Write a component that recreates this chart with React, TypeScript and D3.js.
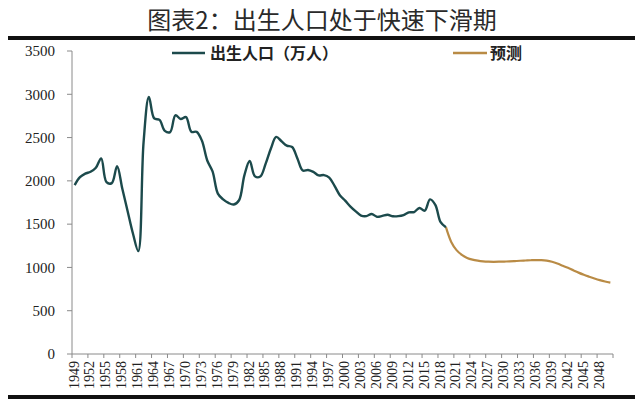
import React from 'react';
import * as d3 from 'd3';

const titleText = '图表2：出生人口处于快速下滑期';
const legendHist = '出生人口（万人）';
const legendFcst = '预测';

const histStart = 1949;
const histBirths = [
  1950, 2042, 2083, 2105, 2151, 2260, 1984, 1974, 2169, 1905,
  1647, 1389, 1188, 2451, 2970, 2721, 2704, 2577, 2563, 2757,
  2715, 2736, 2567, 2566, 2463, 2235, 2109, 1853, 1786, 1745,
  1727, 1776, 2064, 2230, 2052, 2050, 2196, 2374, 2508, 2457,
  2407, 2391, 2258, 2119, 2126, 2104, 2063, 2067, 2038, 1942,
  1834, 1771, 1702, 1647, 1599, 1593, 1617, 1585, 1595, 1608,
  1591, 1592, 1604, 1635, 1640, 1687, 1655, 1786, 1723, 1523,
  1465,
];

const fcstStart = 2019;
const fcstBirths = [
  1465, 1295, 1200, 1145, 1110, 1090, 1078, 1070, 1066, 1065,
  1066, 1068, 1070, 1073, 1077, 1080, 1083, 1085, 1084, 1078,
  1065, 1045, 1020, 995, 968, 940, 915, 893, 872, 853,
  837, 825,
];

const xTickLabels = [
  '1949', '1952', '1955', '1958', '1961', '1964', '1967', '1970', '1973', '1976',
  '1979', '1982', '1985', '1988', '1991', '1994', '1997', '2000', '2003', '2006',
  '2009', '2012', '2015', '2018', '2021', '2024', '2027', '2030', '2033', '2036',
  '2039', '2042', '2045', '2048',
];
const yTicks = [0, 500, 1000, 1500, 2000, 2500, 3000, 3500];

const firstYear = 1949;
const lastYear = 2050;

const HIST_COLOR = '#1c4a4c';
const FCST_COLOR = '#b98b45';

export default function App() {
  const W = 640;
  const H = 406;
  const left = 72;
  const right = 613;
  const top = 51;
  const bottom = 354;

  const x = d3.scaleLinear().domain([firstYear - 0.5, lastYear + 0.5]).range([left, right]);
  const y = d3.scaleLinear().domain([0, 3500]).range([bottom, top]);

  const hist = histBirths.map((v, i) => [histStart + i, v] as [number, number]);
  const fcst = fcstBirths.map((v, i) => [fcstStart + i, v] as [number, number]);

  const line = d3
    .line<[number, number]>()
    .x((d) => x(d[0]))
    .y((d) => y(d[1]))
    .curve(d3.curveCatmullRom.alpha(0.5));

  const tickBounds: number[] = [];
  for (let t = firstYear - 0.5; t <= lastYear + 0.5 + 1e-6; t += 3) tickBounds.push(t);

  const serif = '"Liberation Serif", "Times New Roman", serif';
  const cjk = '"Noto Sans CJK SC", sans-serif';

  return (
    <svg
      width={W}
      height={H}
      style={{ position: 'absolute', left: 0, top: 0, background: '#ffffff' }}
    >
      <rect x={0} y={0} width={W} height={H} fill="#ffffff" />
      <text
        x={322}
        y={29}
        textAnchor="middle"
        fontFamily={cjk}
        fontSize={24}
        fill="#2a2a2a"
      >
        {titleText}
      </text>
      <line x1={8} x2={635} y1={38} y2={38} stroke="#111" strokeWidth={4} />
      <line x1={8} x2={635} y1={397} y2={397} stroke="#111" strokeWidth={4} />

      {/* legend */}
      <line x1={172} x2={205} y1={53} y2={53} stroke={HIST_COLOR} strokeWidth={2.5} />
      <text x={210} y={59} fontFamily={cjk} fontWeight="bold" fontSize={16} fill="#222">
        {legendHist}
      </text>
      <line x1={453} x2={487} y1={53} y2={53} stroke={FCST_COLOR} strokeWidth={2.5} />
      <text x={490} y={59} fontFamily={cjk} fontWeight="bold" fontSize={16} fill="#222">
        {legendFcst}
      </text>

      {/* y axis */}
      <line x1={left} x2={left} y1={top} y2={bottom} stroke="#8a8a8a" strokeWidth={1} />
      {yTicks.map((t) => (
        <g key={t}>
          <line x1={left - 5} x2={left} y1={y(t)} y2={y(t)} stroke="#8a8a8a" strokeWidth={1} />
          <text
            x={55}
            y={y(t)}
            dy="0.35em"
            textAnchor="end"
            fontFamily={serif}
            fontSize={15}
            fill="#222"
          >
            {t}
          </text>
        </g>
      ))}

      {/* x axis */}
      <line x1={left} x2={right} y1={bottom} y2={bottom} stroke="#8a8a8a" strokeWidth={1} />
      {tickBounds.map((t) => (
        <line
          key={t}
          x1={x(t)}
          x2={x(t)}
          y1={bottom}
          y2={bottom + 4}
          stroke="#8a8a8a"
          strokeWidth={1}
        />
      ))}
      {xTickLabels.map((lab) => {
        const px = x(+lab) - 1;
        const py = 361;
        return (
          <text
            key={lab}
            transform={`translate(${px},${py}) rotate(-90)`}
            textAnchor="end"
            dy="0.35em"
            fontFamily={serif}
            fontSize={14}
            fill="#222"
          >
            {lab}
          </text>
        );
      })}

      {/* lines */}
      <path d={line(fcst) || ''} fill="none" stroke={FCST_COLOR} strokeWidth={2.2} />
      <path d={line(hist) || ''} fill="none" stroke={HIST_COLOR} strokeWidth={2.4} />
    </svg>
  );
}
